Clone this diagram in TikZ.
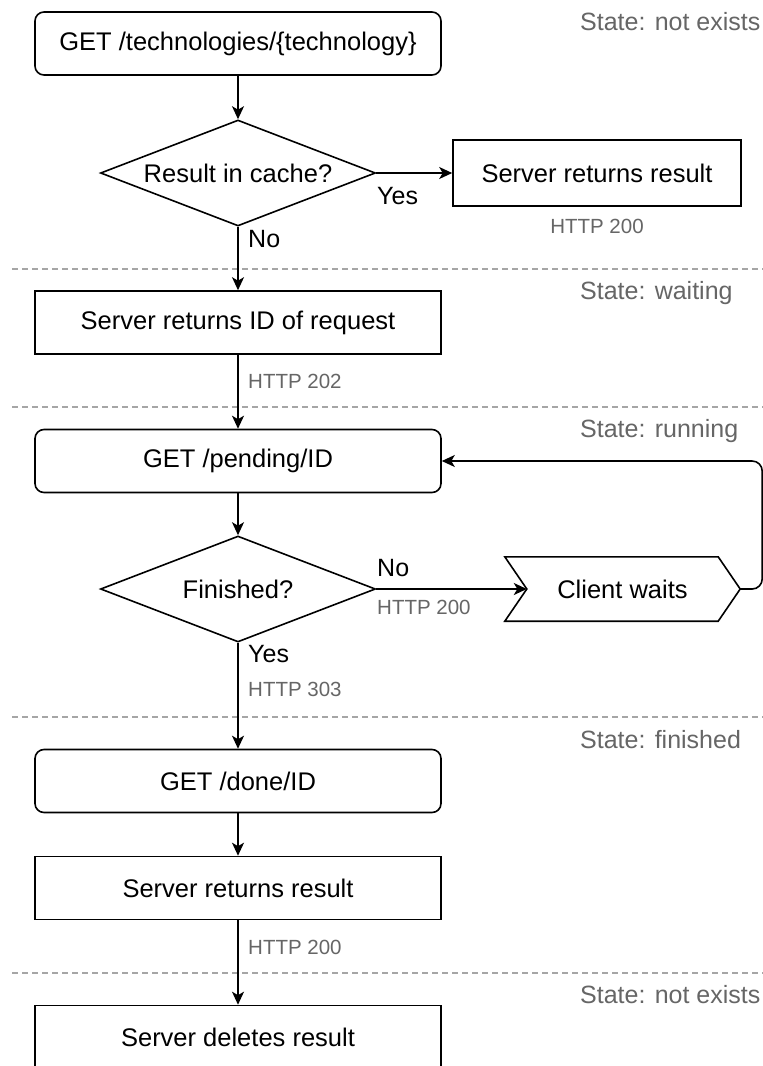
\documentclass[tikz,border=0pt]{standalone}
\usepackage{fontspec}
\setmainfont{Liberation Sans}
\usetikzlibrary{shapes.geometric,arrows.meta}
\definecolor{lbl}{HTML}{666666}
\definecolor{sepc}{HTML}{A6A6A6}
\tikzset{
  mainfont/.style={font=\fontsize{25.5}{30}\selectfont},
  lblfont/.style={font=\fontsize{25}{30}\selectfont},
  box/.style={draw, line width=1.6pt, minimum width=406pt, minimum height=63pt, inner sep=0pt, mainfont},
  rbox/.style={box, rounded corners=9pt},
  dec/.style={draw, diamond, line width=1.6pt, minimum width=275pt, minimum height=106pt, aspect=2.6, inner sep=0pt, mainfont},
  flow/.style={line width=1.6pt, -{Stealth[length=13pt,width=12pt,inset=3.5pt]}},
  lab/.style={lblfont, anchor=west, inner sep=0pt},
  code/.style={font=\fontsize{20.5}{24}\selectfont, text=lbl, anchor=west, inner sep=0pt},
  state/.style={lblfont, text=lbl, anchor=west, inner sep=0pt},
  sepline/.style={draw=sepc, line width=1.5pt, dash pattern=on 6pt off 4pt},
}
\begin{document}
\begin{tikzpicture}[x=1pt, y=-1pt]
\useasboundingbox (0,0) rectangle (763,1066);
\clip (0,0) rectangle (763,1066);
\fill[white] (0,0) rectangle (763,1066);

% separators
\foreach \yy in {269,407,717,973} {\draw[sepline] (12,\yy) -- (763,\yy);}

% state labels
\node[state] (s1) at (580,22) {State: not exists};
\node[state] (s2) at (580,293) {State: waiting};
\node[state] (s3) at (580,431) {State: running};
\node[state] (s4) at (580,740) {State: finished};
\node[state] (s5) at (580,995) {State: not exists};

% nodes
\node[rbox] (get1) at (238,43.5) {GET /technologies/\{technology\}};
\node[dec] (cache) at (238,173) {Result in cache?};
\node[box, minimum width=288pt, minimum height=66pt] (ret1) at (597,173) {Server returns result};
\node[box] (rid) at (238,322.5) {Server returns ID of request};
\node[rbox] (pend) at (238,461) {GET /pending/ID};
\node[dec] (fin) at (238,589) {Finished?};
\node[minimum width=235pt, minimum height=64pt, inner sep=0pt, mainfont] (wait) at (622.5,589) {Client waits};
\draw[line width=1.6pt, line join=miter] (wait.north west) -- ([xshift=-22pt]wait.north east) -- (wait.east)
  -- ([xshift=-22pt]wait.south east) -- (wait.south west) -- ([xshift=22pt]wait.west) -- cycle;
\coordinate (notch) at ([xshift=22pt]wait.west);
\node[rbox] (done) at (238,781) {GET /done/ID};
\node[box] (ret2) at (238,888) {Server returns result};
\node[box] (del) at (238,1037) {Server deletes result};

% connectors
\draw[flow] (get1) -- (cache);
\draw[flow] (cache.east) -- (ret1.west);
\draw[flow] (cache.south) -- (rid.north);
\draw[flow] (rid) -- (pend);
\draw[flow] (pend) -- (fin);
\draw[flow] (fin.east) -- (notch);
\draw[flow, rounded corners=10pt] (wait.east) -- ++(22,0) |- (pend.east);
\draw[flow] (fin.south) -- (done.north);
\draw[flow] (done) -- (ret2);
\draw[flow] (ret2) -- (del);

% labels
\node[lab] (yes1) at (377,196) {Yes};
\node[lab] (no1) at (248,239) {No};
\node[code, anchor=center] (h1) at (597,226) {HTTP 200};
\node[code] (h2) at (248,381) {HTTP 202};
\node[lab] (no2) at (377,568) {No};
\node[code] (h3) at (377,607) {HTTP 200};
\node[lab] (yes2) at (248,654) {Yes};
\node[code] (h4) at (248,689) {HTTP 303};
\node[code] (h5) at (248,947) {HTTP 200};
\end{tikzpicture}
\end{document}
